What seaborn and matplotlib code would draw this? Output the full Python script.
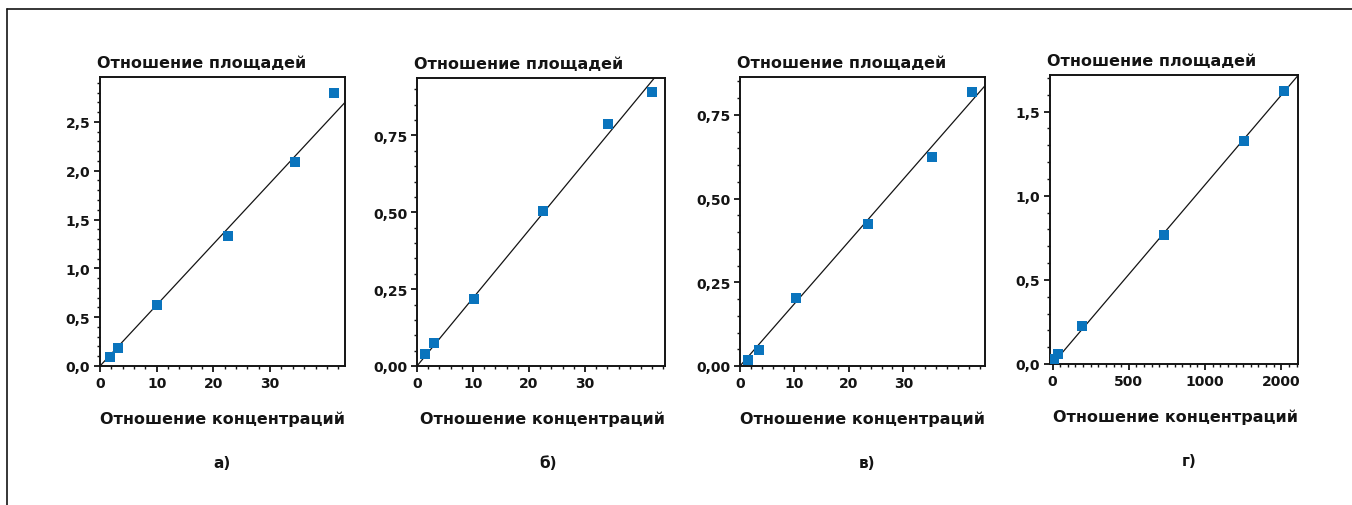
import numpy as np
import pandas as pd
import seaborn as sns
import matplotlib.pyplot as plt
from matplotlib.lines import Line2D
from matplotlib.ticker import MultipleLocator, FixedLocator, FixedFormatter

# --- data --------------------------------------------------------
panel_labels = ["а)", "б)", "в)", "г)"]

x_a = [1.8, 3.2, 10.0, 22.5, 34.3, 41.3]
y_a = [0.09, 0.18, 0.62, 1.33, 2.09, 2.80]

x_b = [1.5, 3.0, 10.2, 22.5, 34.2, 41.9]
y_b = [0.038, 0.074, 0.217, 0.505, 0.788, 0.891]

x_c = [1.4, 3.4, 10.3, 23.5, 35.3, 42.6]
y_c = [0.017, 0.048, 0.204, 0.424, 0.623, 0.818]

x_d = [11, 33, 191, 733, 1257, 1515]
y_d = [0.03, 0.06, 0.228, 0.769, 1.324, 1.625]

slopes = [0.0625, 0.0221, 0.0186, 0.001066]

xticks = [[0, 10, 20, 30], [0, 10, 20, 30], [0, 10, 20, 30], [0, 500, 1000, 1500]]
xticklabels = [["0", "10", "20", "30"], ["0", "10", "20", "30"],
               ["0", "10", "20", "30"], ["0", "500", "1000", "2000"]]
yticks = [[0, 0.5, 1.0, 1.5, 2.0, 2.5], [0, 0.25, 0.5, 0.75],
          [0, 0.25, 0.5, 0.75], [0, 0.5, 1.0, 1.5]]
yticklabels = [["0,0", "0,5", "1,0", "1,5", "2,0", "2,5"],
               ["0,00", "0,25", "0,50", "0,75"],
               ["0,00", "0,25", "0,50", "0,75"],
               ["0,0", "0,5", "1,0", "1,5"]]

xlabel = "Отношение концентраций"
ylabel = "Отношение площадей"

# --- layout ------------------------------------------------------
xlims = [(0, 43.2), (0, 44.3), (0, 45.0), (-17, 1609)]
ylims = [(0, 2.96), (0, 0.937), (0, 0.863), (0, 1.718)]
xminor = [2, 2, 2, 50]
yminor = [0.1, 0.05, 0.05, 0.1]
# axes boxes in pixels: left, right, top, bottom
boxes = [(100, 345, 78, 367), (417, 665, 79, 367),
         (740, 985, 78, 367), (1050, 1298, 76, 365)]
label_x = [0.5, 0.53, 0.52, 0.56]

sns.set_theme(style="ticks")
plt.rcParams["font.family"] = ["DejaVu Sans"]
plt.rcParams["font.weight"] = "bold"
ink = "#141414"
plt.rcParams["text.color"] = ink
plt.rcParams["xtick.labelcolor"] = ink
plt.rcParams["ytick.labelcolor"] = ink
plt.rcParams["axes.labelcolor"] = ink

W, H = 1352, 506
fig = plt.figure(figsize=(W / 100, H / 100), dpi=100)

blue = "#0a74bd"
datasets = [(x_a, y_a), (x_b, y_b), (x_c, y_c), (x_d, y_d)]

for i, (xs, ys) in enumerate(datasets):
    l, r, t, b = boxes[i]
    ax = fig.add_axes([l / W, 1 - b / H, (r - l) / W, (b - t) / H])
    df = pd.DataFrame({"x": xs, "y": ys})

    ax.axline((0, 0), slope=slopes[i], color=ink, lw=0.9, zorder=1)
    sns.scatterplot(data=df, x="x", y="y", ax=ax, marker="s", s=42,
                    color=blue, linewidth=0, zorder=3)

    ax.set_xlim(*xlims[i])
    ax.set_ylim(*ylims[i])
    ax.xaxis.set_major_locator(FixedLocator(xticks[i]))
    ax.xaxis.set_major_formatter(FixedFormatter(xticklabels[i]))
    ax.yaxis.set_major_locator(FixedLocator(yticks[i]))
    ax.yaxis.set_major_formatter(FixedFormatter(yticklabels[i]))
    ax.xaxis.set_minor_locator(MultipleLocator(xminor[i]))
    ax.yaxis.set_minor_locator(MultipleLocator(yminor[i]))
    ax.tick_params(which="major", length=4, width=1.3, labelsize=10,
                   color=ink, pad=3)
    ax.tick_params(which="minor", length=2.2, width=1.0, color=ink)
    for lab in ax.get_xticklabels() + ax.get_yticklabels():
        lab.set_fontweight("bold")
    for sp in ax.spines.values():
        sp.set_linewidth(1.4)
        sp.set_color(ink)

    ax.set_xlabel(xlabel, fontsize=11.5, fontweight="bold", ha="right")
    ax.xaxis.set_label_coords(1.0, -0.155)
    ax.set_ylabel(ylabel, fontsize=11.5, fontweight="bold", rotation=0,
                  ha="left", va="center")
    ax.yaxis.set_label_coords(-0.012, 1.05)

    ax.text(label_x[i], -0.335, panel_labels[i], transform=ax.transAxes,
            ha="center", va="center", fontsize=11, fontweight="bold")

# outer frame (top and left edges visible)
fig.add_artist(Line2D([7 / W, 1], [1 - 10 / H, 1 - 10 / H], color=ink, lw=1.2))
fig.add_artist(Line2D([7 / W, 7 / W], [0, 1 - 10 / H], color=ink, lw=1.2))

fig.savefig("out.png", dpi=100)
